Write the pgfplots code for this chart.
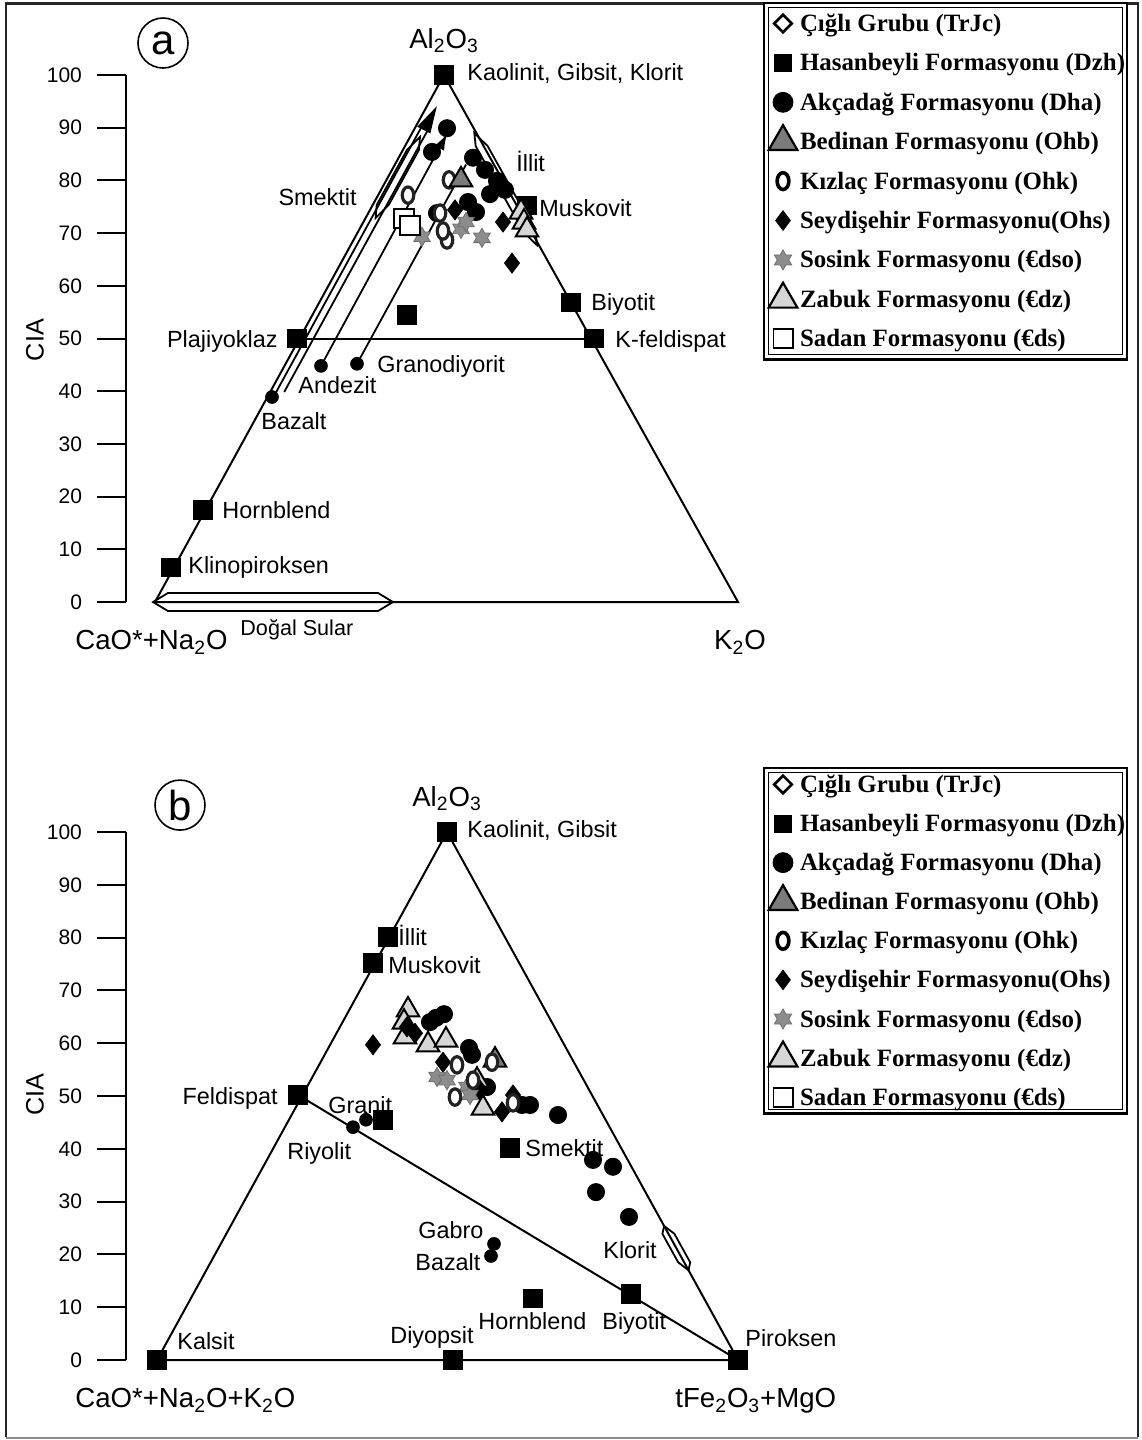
\documentclass[border=0pt]{standalone}
\usepackage{fontspec}
\setmainfont{Liberation Sans}
\newfontfamily\legfont{Liberation Serif}
\usepackage{pgfplots}
\pgfplotsset{compat=1.18}
\usetikzlibrary{arrows.meta}

\definecolor{bedgray}{HTML}{7B7B7B}
\definecolor{zabgray}{HTML}{D6D6D6}
\definecolor{stargray}{HTML}{8C8C8C}
\definecolor{ringc}{HTML}{222222}

% thick open ring, taller than wide
\pgfdeclareplotmark{ring}{%
  \pgfpathellipse{\pgfpointorigin}{\pgfpoint{0.7\pgfplotmarksize}{0pt}}{\pgfpoint{0pt}{\pgfplotmarksize}}%
  \pgfusepathqfillstroke}
% six-pointed star
\pgfdeclareplotmark{sixstar}{%
  \pgfpathmoveto{\pgfpointpolar{90}{\pgfplotmarksize}}%
  \pgfpathlineto{\pgfpointpolar{120}{0.577\pgfplotmarksize}}%
  \pgfpathlineto{\pgfpointpolar{150}{\pgfplotmarksize}}%
  \pgfpathlineto{\pgfpointpolar{180}{0.577\pgfplotmarksize}}%
  \pgfpathlineto{\pgfpointpolar{210}{\pgfplotmarksize}}%
  \pgfpathlineto{\pgfpointpolar{240}{0.577\pgfplotmarksize}}%
  \pgfpathlineto{\pgfpointpolar{270}{\pgfplotmarksize}}%
  \pgfpathlineto{\pgfpointpolar{300}{0.577\pgfplotmarksize}}%
  \pgfpathlineto{\pgfpointpolar{330}{\pgfplotmarksize}}%
  \pgfpathlineto{\pgfpointpolar{0}{0.577\pgfplotmarksize}}%
  \pgfpathlineto{\pgfpointpolar{30}{\pgfplotmarksize}}%
  \pgfpathlineto{\pgfpointpolar{60}{0.577\pgfplotmarksize}}%
  \pgfpathclose
  \pgfusepathqfillstroke}

\newcommand\labfont{\fontsize{11.7}{13}\selectfont}
\newcommand\bigfont{\fontsize{13.8}{15}\selectfont}

\tikzset{
  leg/.style={anchor=north west, outer sep=0pt, draw=black, line width=1.3pt,
    inner xsep=1pt, column sep=0pt,
    font=\legfont\bfseries\fontsize{12.45}{14}\selectfont,
    nodes={inner sep=0pt, text height=9pt, text depth=1pt}},
  lab/.style={font=\labfont, inner sep=0pt, text height=8.4pt, text depth=0pt, anchor=west},
  big/.style={font=\bigfont, inner sep=0pt, text height=9.9pt, text depth=0pt},
}

\pgfplotsset{
  panel/.style={
    scale only axis, width=317pt,
    xmin=126, xmax=760, ymin=0, ymax=100,
    axis x line=none, axis y line=left,
    axis line style={-, line width=1pt, black},
    xtick=\empty, ytick={0,10,...,100},
    tick align=outside, major tick length=14.5pt,
    tick style={line width=1pt, black},
    /pgf/number format/assume math mode=true,
    yticklabel style={font=\fontsize{10.5}{12}\selectfont, xshift=-4pt},
    clip=false,
    legend cell align=left,
    % every legend symbol gets the same cell size, marker centred in it
    legend image code/.code={\path[draw=none] (-8.5pt,-1pt) rectangle (8.5pt,1pt);
      \draw[##1, overlay] plot coordinates {(0pt,0pt)};},
  },
  trline/.style={line width=1pt, black, forget plot},
  band/.style={line width=0.9pt, black, forget plot},
  mk/.style={only marks, forget plot},
  refsq/.style={mk, mark=square*, mark size=4.6pt, mark options={fill=black, draw=black, line width=0.4pt}},
  refdot/.style={mk, mark=*, mark size=3.2pt, mark options={fill=black, draw=black}},
  akca/.style={mk, mark=*, mark size=4.3pt, mark options={fill=black, draw=black}},
  bedin/.style={mk, mark=triangle*, mark size=6.5pt, mark options={fill=bedgray, draw=black, line width=1pt}},
  kizla/.style={mk, mark=ring, mark size=4.1pt, mark options={fill=white, draw=ringc, line width=1.6pt}},
  seydi/.style={mk, mark=diamond*, mark size=5pt, mark options={fill=black, draw=black}},
  sosin/.style={mk, mark=sixstar, mark size=4.8pt, mark options={fill=stargray, draw=stargray!80!black, line width=0.4pt}},
  zabuk/.style={mk, mark=triangle*, mark size=6.5pt, mark options={fill=zabgray, draw=black, line width=1pt}},
  sadan/.style={mk, mark=square*, mark size=4.8pt, mark options={fill=white, draw=black, line width=1pt}},
}

% legend entries shared by both panels
\newcommand\formationlegend{%
  \addlegendimage{only marks, mark=square*, mark size=3.1pt, mark options={rotate=45, fill=white, draw=black, line width=1.3pt}}
  \addlegendentry{Çığlı Grubu (TrJc)}
  \addlegendimage{only marks, mark=square*, mark size=4.2pt, mark options={fill=black, draw=black, line width=0.4pt}}
  \addlegendentry{Hasanbeyli Formasyonu (Dzh)}
  \addlegendimage{only marks, mark=*, mark size=5pt, mark options={fill=black, draw=black, line width=0.4pt}}
  \addlegendentry{Akçadağ Formasyonu (Dha)}
  \addlegendimage{only marks, mark=triangle*, mark size=8.3pt, mark options={fill=bedgray, draw=black, line width=1.1pt}}
  \addlegendentry{Bedinan Formasyonu (Ohb)}
  \addlegendimage{only marks, mark=ring, mark size=4.2pt, mark options={fill=white, draw=black, line width=1.8pt}}
  \addlegendentry{Kızlaç Formasyonu (Ohk)}
  \addlegendimage{only marks, mark=diamond*, mark size=4.9pt, mark options={fill=black, draw=black, line width=0.4pt}}
  \addlegendentry{Seydişehir Formasyonu(Ohs)}
  \addlegendimage{only marks, mark=sixstar, mark size=5pt, mark options={fill=stargray, draw=stargray!80!black, line width=0.4pt}}
  \addlegendentry{Sosink Formasyonu (€dso)}
  \addlegendimage{only marks, mark=triangle*, mark size=8.3pt, mark options={fill=zabgray, draw=black, line width=1.1pt}}
  \addlegendentry{Zabuk Formasyonu (€dz)}
  \addlegendimage{only marks, mark=square*, mark size=4.8pt, mark options={fill=white, draw=black, line width=0.9pt}}
  \addlegendentry{Sadan Formasyonu (€ds)}
}

\begin{document}
\begin{tikzpicture}
\useasboundingbox (0,0) rectangle (570.5pt,-720pt);
% outer frame
\draw[line width=1.4pt, black!85] (3pt,-718.5pt) -- (3pt,-1.7pt) -- (569pt,-1.7pt) -- (569pt,-718.5pt);
\draw[line width=1pt, black!45] (3pt,-718.8pt) -- (569pt,-718.8pt);

%% ---------------- panel a: A-CN-K ----------------
\begin{axis}[panel, at={(63pt,-301pt)}, anchor=south west, height=263.5pt,
  legend style={leg, at={(1.00631,1.1366)}, inner ysep=5.25pt, row sep=9.7pt, name=lega}]
% triangle and feldspar join
\addplot[trline] coordinates {(155,0) (444,100) (738,0)} --cycle;
\addplot[trline] coordinates {(297,50) (594,50)};
% weathering trends
\addplot[band, -{Latex[length=8pt,width=5.5pt]}] coordinates {(321,44.8) (447,88.8)};
\addplot[band] coordinates {(357,45.2) (466,83.0)};
\addplot[band] coordinates {(276.2,39.85) (421.1,90)};
\addplot[band] coordinates {(284.2,39.85) (429.1,90)};
\addplot[band, fill=black] coordinates {(435.2,93.5) (429.7,89.15) (418.7,90.25)} --cycle;
% Smektit, Illit-Muskovit and natural-water fields
\addplot[band] coordinates {(375.6,72.87) (388.7,75.33) (418.9,85.77) (420.0,88.24) (406.9,85.77) (376.7,75.33)} --cycle;
\addplot[band] coordinates {(474.3,89.0) (487.7,86.5) (535.6,70.2) (537.0,67.7) (523.6,70.2) (475.7,86.5)} --cycle;
\addplot[band] coordinates {(153,0) (168,1.71) (378,1.71) (393,0) (378,-1.71) (168,-1.71)} --cycle;
% reference minerals and rocks
\addplot[refsq] coordinates {(444,100) (571,56.9) (297,50) (594,50) (203,17.5) (171,6.6) (527,75.3)};
\addplot[refdot] coordinates {(272,38.9) (321,44.8) (357,45.2)};
% samples
\addplot[akca] coordinates {(447,89.9) (432,85.4) (473,84.3) (485,82.0) (497,79.9) (505,78.2) (490,77.4) (468,75.9) (476,74.0) (437,73.8)};
\addplot[seydi] coordinates {(455,74.4) (503,72.1) (512,64.3)};
\addplot[kizla] coordinates {(408,77.2) (449,80.1) (440,73.8) (447,68.7) (443,70.4)};
\addplot[bedin] coordinates {(461,80.1)};
\addplot[sosin] coordinates {(422,69.3) (461,70.8) (466,72.1) (482,69.1)};
\addplot[zabuk] coordinates {(521,74.0) (524,72.1) (527,70.6)};
\addplot[sadan] coordinates {(404,72.7) (410,71.4)};
\addplot[refsq] coordinates {(407,54.5)};
\formationlegend
% labels
\node[big, anchor=center] at (444,107.0) {Al\textsubscript{2}O\textsubscript{3}};
\node[lab] at (467,100.57) {Kaolinit, Gibsit, Klorit};
\node[lab] at (516,83.3) {İllit};
\node[lab] at (539,74.76) {Muskovit};
\node[lab, anchor=east] at (357,76.85) {Smektit};
\node[lab] at (591,56.93) {Biyotit};
\node[lab, anchor=east] at (278,49.9) {Plajiyoklaz};
\node[lab] at (615,49.9) {K-feldispat};
\node[lab] at (377,45.16) {Granodiyorit};
\node[lab] at (298,41.18) {Andezit};
\node[lab] at (261,34.35) {Bazalt};
\node[lab] at (222,17.46) {Hornblend};
\node[lab] at (188,7.02) {Klinopiroksen};
\node[font=\fontsize{10.8}{12}\selectfont, inner sep=0pt, text height=7.7pt, text depth=0pt, anchor=west] at (240,-4.93) {Doğal Sular};
\node[big, anchor=west] at (75,-7.21) {CaO*+Na\textsubscript{2}O};
\node[big, anchor=center] at (740,-7.21) {K\textsubscript{2}O};
\node[font=\fontsize{12.6}{14}\selectfont, rotate=90, inner sep=0pt] at (35,49.7) {CIA};
\node[draw, circle, line width=0.8pt, minimum size=25pt, inner sep=0pt, font=\fontsize{21}{21}\selectfont] at (163,106.07) {a};
\end{axis}
\draw[line width=0.5pt] ([xshift=2.2pt,yshift=-2.2pt]lega.north west) rectangle ([xshift=-2.2pt,yshift=2.2pt]lega.south east);

%% ---------------- panel b: A-CNK-FM ----------------
\begin{axis}[panel, at={(63pt,-680pt)}, anchor=south west, height=264pt,
  legend style={leg, at={(1.00631,1.1212)}, inner ysep=3.2pt, row sep=9.55pt, name=legb}]
\addplot[trline] coordinates {(157,0) (447,100) (738,0)} --cycle;
\addplot[trline] coordinates {(298,50.2) (738,0)};
% Klorit field
\addplot[band] coordinates {(664.1,25.4) (674.4,23.9) (690.2,18.5) (688.5,17.0) (678.2,18.5) (662.4,23.9)} --cycle;
% reference minerals and rocks
\addplot[refsq] coordinates {(447,100) (388,80.1) (373,75.2) (298,50.2) (510,40.2) (533,11.7) (631,12.5) (157,0) (453,0) (738,0)};
\addplot[refdot] coordinates {(353,44.1) (366,45.5) (494,22.0) (491,19.7)};
% samples
\addplot[akca] coordinates {(436,64.8) (444,65.5) (430,64.0) (469,59.1) (472,57.8) (487,51.7) (522,48.3) (530,48.3) (558,46.4) (593,37.9) (613,36.6) (596,31.8) (629,27.1)};
\addplot[zabuk] coordinates {(408,66.3) (404,64.0) (405,61.2) (428,59.7) (446,60.6) (477,53.0) (483,47.7)};
\addplot[bedin] coordinates {(495,56.8)};
\addplot[seydi] coordinates {(373,59.7) (407,63.1) (415,61.9) (443,56.4) (480,51.1) (502,47.0) (513,50.2)};
\addplot[sosin] coordinates {(437,53.6) (447,53.0) (467,51.7) (470,50.2)};
\addplot[kizla] coordinates {(457,55.9) (455,49.8) (473,53.0) (513,48.7) (492,56.4)};
\addplot[refsq] coordinates {(383,45.5)};
\formationlegend
% labels
\node[big, anchor=center] at (447,106.8) {Al\textsubscript{2}O\textsubscript{3}};
\node[lab] at (467,100.57) {Kaolinit, Gibsit};
\node[lab] at (398,80.11) {İllit};
\node[lab] at (388,74.81) {Muskovit};
\node[lab, anchor=east] at (278,50.0) {Feldispat};
\node[lab] at (328,48.3) {Granit};
\node[lab] at (287,39.58) {Riyolit};
\node[lab] at (525,40.15) {Smektit};
\node[lab] at (418,24.62) {Gabro};
\node[lab] at (415,18.56) {Bazalt};
\node[lab] at (603,20.83) {Klorit};
\node[lab] at (478,7.39) {Hornblend};
\node[lab] at (602,7.39) {Biyotit};
\node[lab] at (390,4.73) {Diyopsit};
\node[lab] at (177,3.6) {Kalsit};
\node[lab] at (745,4.17) {Piroksen};
\node[big, anchor=west] at (75,-7.2) {CaO*+Na\textsubscript{2}O+K\textsubscript{2}O};
\node[big, anchor=west] at (675,-7.2) {tFe\textsubscript{2}O\textsubscript{3}+MgO};
\node[font=\fontsize{12.6}{14}\selectfont, rotate=90, inner sep=0pt] at (35,50.2) {CIA};
\node[draw, circle, line width=0.8pt, minimum size=25pt, inner sep=0pt, font=\fontsize{21}{21}\selectfont] at (180,105.1) {b};
\end{axis}
\draw[line width=0.5pt] ([xshift=2.2pt,yshift=-2.2pt]legb.north west) rectangle ([xshift=-2.2pt,yshift=2.2pt]legb.south east);
\end{tikzpicture}
\end{document}
